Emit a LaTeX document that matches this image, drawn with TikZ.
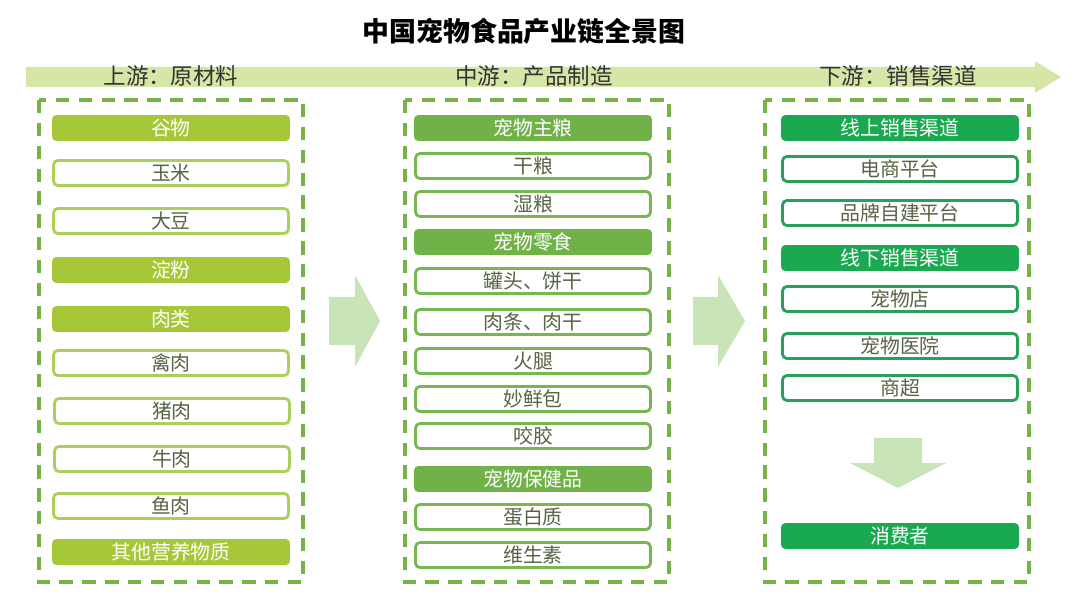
\documentclass[tikz,border=0pt]{standalone}
\usepackage{fontspec}
\setmainfont{Noto Sans CJK SC}
\usetikzlibrary{shapes,arrows,positioning}
\definecolor{bandgreen}{RGB}{214,230,166}
\definecolor{flowgreen}{RGB}{200,228,184}
\definecolor{dashgreen}{RGB}{118,178,72}
\definecolor{upfill}{RGB}{166,200,56}
\definecolor{upline}{RGB}{172,206,92}
\definecolor{midfill}{RGB}{112,178,72}
\definecolor{midline}{RGB}{120,182,82}
\definecolor{downfill}{RGB}{26,168,80}
\definecolor{downline}{RGB}{40,160,92}
\definecolor{itemtext}{RGB}{88,100,68}

\begin{document}
\begin{tikzpicture}[x=0.02cm, y=-0.02cm,
    hdr/.style={rounded corners=2.5pt, minimum width=4.76cm, minimum height=0.52cm, inner sep=0pt, text=white, font=\fontsize{11.3}{12}\selectfont},
    item/.style={draw, line width=1.6pt, rounded corners=2.5pt, fill=white, minimum width=4.7cm, minimum height=0.5cm, inner sep=0pt, text=itemtext, font=\fontsize{11.3}{12}\selectfont},
    frame/.style={draw=dashgreen, line width=2.2pt, dash pattern=on 7.6pt off 5.4pt},
    stage/.style={text=black!80, font=\fontsize{12.8}{14}\selectfont}]
  \useasboundingbox (0,0) rectangle (1080,608);

  % title and flow band
  \node[font=\bfseries\fontsize{15.3}{18}\selectfont] (title) at (524,31) {中国宠物食品产业链全景图};
  \fill[bandgreen] (26,67) -- (1035,67) -- (1035,61) -- (1061,77) -- (1035,93) -- (1035,87) -- (26,87) -- cycle;
  \node[stage] (up) at (171,76) {上游：原材料};
  \node[stage] (mid) at (534,76) {中游：产品制造};
  \node[stage] (down) at (898,76) {下游：销售渠道};

  % dashed frames
  \draw[frame] (39,100) rectangle (303,582);
  \draw[frame] (405,100) rectangle (669,582);
  \draw[frame] (765,100) rectangle (1029,582);

  % upstream
  \node[hdr, fill=upfill] (grain) at (171,128) {谷物};
  \node[item, draw=upline] (corn) at (171,173) {玉米};
  \node[item, draw=upline] (soy) at (171,221) {大豆};
  \node[hdr, fill=upfill] (starch) at (171,270) {淀粉};
  \node[hdr, fill=upfill] (meat) at (171,319) {肉类};
  \node[item, draw=upline] (poultry) at (171,363) {禽肉};
  \node[item, draw=upline] (pork) at (172,411) {猪肉};
  \node[item, draw=upline] (beef) at (172,459) {牛肉};
  \node[item, draw=upline] (fish) at (171,506) {鱼肉};
  \node[hdr, fill=upfill] (other) at (171,552) {其他营养物质};

  % midstream
  \node[hdr, fill=midfill] (staple) at (533,128) {宠物主粮};
  \node[item, draw=midline] (dry) at (533,166) {干粮};
  \node[item, draw=midline] (wet) at (533,204) {湿粮};
  \node[hdr, fill=midfill] (snack) at (533,242) {宠物零食};
  \node[item, draw=midline] (can) at (533,281) {罐头、饼干};
  \node[item, draw=midline] (jerky) at (533,322) {肉条、肉干};
  \node[item, draw=midline] (ham) at (533,361) {火腿};
  \node[item, draw=midline] (pouch) at (533,399) {妙鲜包};
  \node[item, draw=midline] (chew) at (533,436) {咬胶};
  \node[hdr, fill=midfill] (health) at (533,479) {宠物保健品};
  \node[item, draw=midline] (protein) at (533,517) {蛋白质};
  \node[item, draw=midline] (vitamin) at (533,555) {维生素};

  % downstream
  \node[hdr, fill=downfill] (online) at (900,128) {线上销售渠道};
  \node[item, draw=downline] (ecom) at (900,169) {电商平台};
  \node[item, draw=downline] (brand) at (900,213) {品牌自建平台};
  \node[hdr, fill=downfill] (offline) at (900,258) {线下销售渠道};
  \node[item, draw=downline] (shop) at (900,299) {宠物店};
  \node[item, draw=downline] (clinic) at (900,346) {宠物医院};
  \node[item, draw=downline] (market) at (900,388) {商超};
  \node[hdr, fill=downfill] (consumer) at (900,536) {消费者};

  % block arrows
  \fill[flowgreen] (329,297) -- (355,297) -- (355,275) -- (380,321) -- (355,367) -- (355,345) -- (329,345) -- cycle;
  \fill[flowgreen] (693,297) -- (718,297) -- (718,275) -- (745,321) -- (718,367) -- (718,345) -- (693,345) -- cycle;
  \fill[flowgreen] (874,438) -- (922,438) -- (922,463) -- (946,463) -- (898,488) -- (850,463) -- (874,463) -- cycle;
\end{tikzpicture}
\end{document}
